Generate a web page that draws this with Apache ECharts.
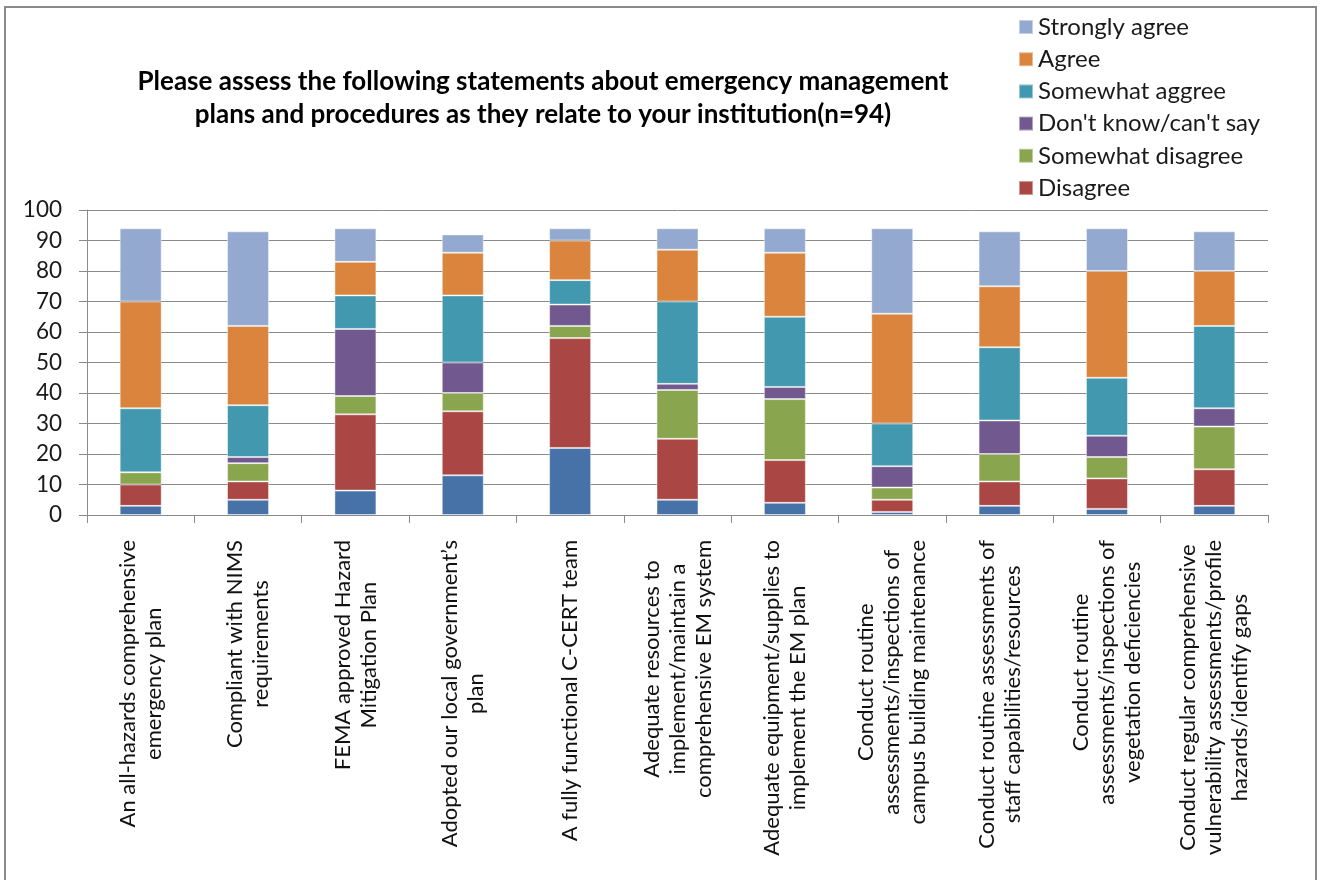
<!DOCTYPE html>
<html>
<head>
<meta charset="utf-8">
<title>Emergency management plans and procedures</title>
<script src="https://cdn.jsdelivr.net/npm/echarts@6/dist/echarts.min.js"></script>
<style>
  html, body { margin: 0; padding: 0; background: #ffffff; }
  #wrap { position: relative; width: 1321px; height: 880px; overflow: hidden; }
  #chart { position: absolute; left: 0; top: 0; width: 1321px; height: 880px; }
  #frame { position: absolute; left: 4px; top: 6px; width: 1309px; height: 900px;
           border: 2px solid #8a8a8a; pointer-events: none; }
</style>
</head>
<body>
<div id="wrap">
  <div id="chart"></div>
  <div id="frame"></div>
</div>
<script>
// Survey statements (one stacked bar each)
const categories = [
  'An all-hazards comprehensive\nemergency plan',
  'Compliant with NIMS\nrequirements',
  'FEMA approved Hazard\nMitigation Plan',
  'Adopted our local government\u2019s\nplan',
  'A fully functional C-CERT team',
  'Adequate resources to\nimplement/maintain a\ncomprehensive EM system',
  'Adequate equipment/supplies to\nimplement the EM plan',
  'Conduct routine\nassessments/inspections of\ncampus building maintenance',
  'Conduct routine assessments of\nstaff capabilities/resources',
  'Conduct routine\nassessments/inspections of\nvegetation deficiencies',
  'Conduct regular comprehensive\nvulnerability assessments/profile\nhazards/identify gaps'
];

// Response counts per statement, bottom of stack first
const stronglyDisagree = [3, 5, 8, 13, 22, 5, 4, 1, 3, 2, 3];
const disagree         = [7, 6, 25, 21, 36, 20, 14, 4, 8, 10, 12];
const somewhatDisagree = [4, 6, 6, 6, 4, 16, 20, 4, 9, 7, 14];
const dontKnow         = [0, 2, 22, 10, 7, 2, 4, 7, 11, 7, 6];
const somewhatAgree    = [21, 17, 11, 22, 8, 27, 23, 14, 24, 19, 27];
const agree            = [35, 26, 11, 14, 13, 17, 21, 36, 20, 35, 18];
const stronglyAgree    = [24, 31, 11, 6, 4, 7, 8, 28, 18, 14, 13];

const yTicks = { min: 0, max: 100, interval: 10 };

const titleText = 'Please assess the following statements about emergency management\nplans and procedures as they relate to your institution(n=94)';

const seriesDefs = [
  { name: 'Strongly disagree', data: stronglyDisagree, color: '#4672A7' },
  { name: 'Disagree', data: disagree, color: '#AA4643' },
  { name: 'Somewhat disagree', data: somewhatDisagree, color: '#89A54E' },
  { name: "Don't know/can't say", data: dontKnow, color: '#71588F' },
  { name: 'Somewhat aggree', data: somewhatAgree, color: '#4198AF' },
  { name: 'Agree', data: agree, color: '#DB843D' },
  { name: 'Strongly agree', data: stronglyAgree, color: '#93A9CF' }
];

const legendOrder = ['Strongly agree', 'Agree', 'Somewhat aggree', "Don't know/can't say", 'Somewhat disagree', 'Disagree'];

const FONT = 'Lato, "Open Sans", sans-serif';

const chart = echarts.init(document.getElementById('chart'), null, { renderer: 'canvas' });

chart.setOption({
  backgroundColor: '#ffffff',
  animation: false,
  title: {
    text: titleText,
    left: 538,
    top: 60,
    textAlign: 'center',
    textStyle: {
      fontFamily: FONT,
      fontSize: 26,
      fontWeight: 'bold',
      color: '#000000',
      lineHeight: 33
    }
  },
  legend: {
    data: legendOrder,
    orient: 'vertical',
    left: 1013,
    top: 10,
    itemWidth: 14,
    itemHeight: 14,
    itemGap: 8.2,
    icon: 'rect',
    textStyle: {
      fontFamily: FONT,
      fontSize: 24,
      color: '#1a1a1a',
      lineHeight: 20
    }
  },
  grid: {
    left: 87,
    right: 53,
    top: 210,
    bottom: 365,
    containLabel: false
  },
  xAxis: {
    type: 'category',
    data: categories,
    axisLine: { show: true, lineStyle: { color: '#8a8a8a', width: 1 } },
    axisTick: { show: true, length: 8, lineStyle: { color: '#8a8a8a' } },
    axisLabel: {
      interval: 0,
      rotate: 90,
      margin: 25,
      fontFamily: FONT,
      fontSize: 22,
      color: '#111111',
      formatter: function (v) {
        return v.split('\n').map(function (line) { return '{c|' + line + '}'; }).join('\n');
      },
      rich: {
        c: { align: 'center', fontFamily: FONT, fontSize: 22, color: '#111111', lineHeight: 26 }
      }
    }
  },
  yAxis: {
    type: 'value',
    min: yTicks.min,
    max: yTicks.max,
    interval: yTicks.interval,
    axisLine: { show: true, lineStyle: { color: '#8a8a8a', width: 1 } },
    axisTick: { show: true, inside: false, length: 8, lineStyle: { color: '#8a8a8a' } },
    axisLabel: {
      margin: 25,
      fontFamily: FONT,
      fontSize: 22.5,
      color: '#1a1a1a'
    },
    splitLine: { show: true, lineStyle: { color: '#8a8a8a', width: 1 } }
  },
  series: seriesDefs.map(function (s) {
    return {
      name: s.name,
      type: 'bar',
      stack: 'responses',
      data: s.data,
      barWidth: 42,
      itemStyle: {
        color: s.color,
        borderColor: 'rgba(255,255,255,0.45)',
        borderWidth: 1
      },
      emphasis: { disabled: true }
    };
  })
});
</script>
</body>
</html>
